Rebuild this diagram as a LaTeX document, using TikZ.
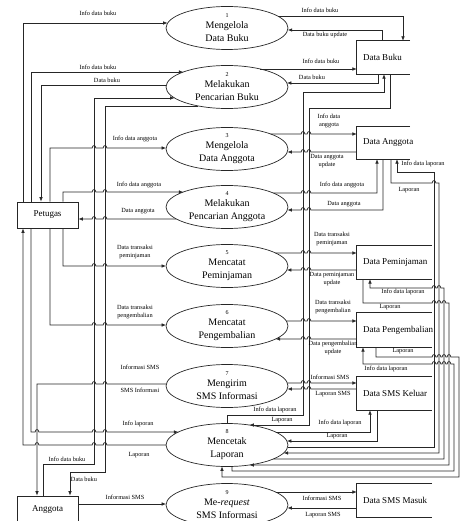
\documentclass[tikz,border=0pt]{standalone}
\usepackage{fontspec}
\setmainfont{Liberation Serif}
\usetikzlibrary{shapes.geometric,calc,arrows.meta}
% hops on horizontal lines (rightward / leftward)
\def\hopR#1#2{-- ({#1-1.8},#2) .. controls +(0,-3.2) and +(0,-3.2) .. ({#1+1.8},#2)}
\def\hopL#1#2{-- ({#1+1.8},#2) .. controls +(0,-3.2) and +(0,-3.2) .. ({#1-1.8},#2)}
% points on the process ellipses (dy / dx from centre)
\def\eL#1#2{($(#1.center)+({-61*sqrt(1-((#2)/21.5)^2)},#2)$)}
\def\eR#1#2{($(#1.center)+({61*sqrt(1-((#2)/21.5)^2)},#2)$)}
\def\eB#1#2{($(#1.center)+(#2,{21.5*sqrt(1-((#2)/61)^2)})$)}
\begin{document}
\begin{tikzpicture}[x=1pt,y=-1pt,
  flow/.style={draw=black!85, line width=0.7pt},
  arr/.style={flow, -{Latex[length=4.5pt,width=3.6pt]}},
  proc/.style={ellipse, draw=black!85, line width=0.7pt, minimum width=122pt, minimum height=43pt, inner sep=0pt, align=center, font=\fontsize{10}{13}\selectfont},
  ent/.style={rectangle, draw=black!85, line width=0.7pt, minimum width=61pt, minimum height=26pt, inner sep=0pt, font=\fontsize{9}{10}\selectfont},
  store/.style={rectangle, minimum height=33pt, inner sep=0pt, font=\fontsize{9}{10}\selectfont},
  lbl/.style={font=\fontsize{6.3}{8.5}\selectfont, inner sep=0pt, align=center}]
\useasboundingbox (0,0) rectangle (474,521);
\clip (0,0) rectangle (474,521);

% processes
\node[proc] (p1) at (227,28)  {{\fontsize{6}{6}\selectfont 1}\\[-2pt]Mengelola\\Data Buku};
\node[proc] (p2) at (227,87)  {{\fontsize{6}{6}\selectfont 2}\\[-2pt]Melakukan\\Pencarian Buku};
\node[proc] (p3) at (227,149) {{\fontsize{6}{6}\selectfont 3}\\[-2pt]Mengelola\\Data Anggota};
\node[proc] (p4) at (227,207) {{\fontsize{6}{6}\selectfont 4}\\[-2pt]Melakukan\\Pencarian Anggota};
\node[proc] (p5) at (227,266) {{\fontsize{6}{6}\selectfont 5}\\[-2pt]Mencatat\\Peminjaman};
\node[proc] (p6) at (227,326) {{\fontsize{6}{6}\selectfont 6}\\[-2pt]Mencatat\\Pengembalian};
\node[proc] (p7) at (227,386) {{\fontsize{6}{6}\selectfont 7}\\[-2pt]Mengirim\\SMS Informasi};
\node[proc] (p8) at (227,445) {{\fontsize{6}{6}\selectfont 8}\\[-2pt]Mencetak\\Laporan};
\node[proc] (p9) at (227,505) {{\fontsize{6}{6}\selectfont 9}\\[-2pt]Me-\textit{request}\\SMS Informasi};

% external entities
\node[ent] (pt) at (47.5,215) {Petugas};
\node[ent] (ag) at (47.5,509) {Anggota};

% data stores
\node[store, minimum width=53pt] (db) at (383.5,57.5) {\makebox[41pt][l]{Data Buku}};
\node[store, minimum width=53pt, minimum height=32pt] (da) at (383.5,143) {\makebox[41pt][l]{Data Anggota}};
\node[store, minimum width=75pt] (dp) at (394.5,262.5) {\makebox[63pt][l]{Data Peminjaman}};
\node[store, minimum width=75pt, minimum height=34pt] (dpg) at (394.5,330) {\makebox[63pt][l]{Data Pengembalian}};
\node[store, minimum width=75pt] (dsk) at (394.5,393.5) {\makebox[63pt][l]{Data SMS Keluar}};
\node[store, minimum width=75pt] (dsm) at (394.5,500.5) {\makebox[63pt][l]{Data SMS Masuk}};
\foreach \s in {db,da,dp,dpg,dsk,dsm}
  \draw[flow] (\s.north east) -- (\s.north west) -- (\s.south west) -- (\s.south east);

% ---------- left side flows ----------
\draw[arr] (23,0 |- pt.north) -- (23,23) -- \eL{p1}{-5};
\draw[arr] (31,0 |- pt.north) -- (31,72) -- \eL{p2}{-15};
\draw[arr] \eL{p2}{-2} -- (41,85) -- (41,0 |- pt.north);
\draw[arr] (43,0 |- ag.north) -- (43,464) -- (94,464) -- (94,98) -- \eL{p2}{11};
\draw[arr] \eL{p2}{19} -- (105,106) -- (105,472) -- (70,472) -- (70,0 |- ag.north);
\draw[arr] (50,0 |- pt.north) -- (50,148) \hopR{94}{148} \hopR{105}{148} -- \eL{p3}{-1};
\draw[arr] (63,0 |- pt.north) -- (63,192) \hopR{94}{192} \hopR{105}{192} -- \eL{p4}{-15};
\draw[arr] \eL{p4}{12} \hopL{105}{219} \hopL{94}{219} -- (pt.east |- 0,219);
\draw[arr] (63,0 |- pt.south) -- (63,266) \hopR{94}{266} \hopR{105}{266} -- \eL{p5}{0};
\draw[arr] (50,0 |- pt.south) -- (50,325) \hopR{94}{325} \hopR{105}{325} -- \eL{p6}{-1};
\draw[arr] \eL{p7}{-2} \hopL{105}{384} \hopL{94}{384} -- (37,384) -- (37,0 |- ag.north);
\draw[arr] (31,0 |- pt.south) -- (31,432) \hopR{37}{432} \hopR{94}{432} \hopR{105}{432} -- \eL{p8}{-13};
\draw[arr] \eL{p8}{0} \hopL{105}{445} \hopL{94}{445} \hopL{37}{445} -- (23,445) -- (23,0 |- pt.south);
\draw[arr] (ag.east |- 0,504) -- \eL{p9}{-1};

% ---------- Data Buku ----------
\draw[arr] \eR{p1}{-12} -- (403,16) -- (403,0 |- db.north);
\draw[arr] (382,0 |- db.north) -- (382,30) -- \eR{p1}{2};
\draw[arr] \eR{p2}{-18} -- (db.west |- 0,69);
\draw[arr] (378,0 |- db.south) -- (378,83) -- \eR{p2}{-4};
\draw[arr] (p8.north) -- (227,415) -- (303,415) -- (303,92) -- (384,92) -- (384,0 |- db.south);
\draw[arr] (390,0 |- db.south) -- (390,108) -- (309,108) -- (309,425) -- \eR{p8}{-20};

% ---------- Data Anggota ----------
\draw[arr] \eR{p3}{-15} \hopR{303}{134} \hopR{309}{134} -- (da.west |- 0,134);
\draw[arr] (da.west |- 0,152) \hopL{309}{152} \hopL{303}{152} -- \eR{p3}{3};
\draw[arr] \eR{p4}{-14} \hopR{303}{193} \hopR{309}{193} -- (377,193) -- (377,0 |- da.south);
\draw[arr] (383,0 |- da.south) -- (383,210) \hopL{309}{210} \hopL{303}{210} -- \eR{p4}{3};
\draw[arr] \eR{p8}{2} -- (434,447) -- (434,172) -- (397,172) -- (397,0 |- da.south);
\draw[arr] (391,0 |- da.south) -- (391,183) \hopR{434}{183} -- (439,183) -- (439,453) -- \eR{p8}{8};

% ---------- Data Peminjaman ----------
\draw[arr] \eR{p5}{-13} \hopR{303}{253} \hopR{309}{253} -- (dp.west |- 0,253);
\draw[arr] (dp.west |- 0,270) \hopL{309}{270} \hopL{303}{270} -- \eR{p5}{4};
\draw[arr] \eR{p8}{14} -- (444,459) -- (444,288) \hopL{439}{288} \hopL{434}{288} -- (370,288) -- (370,0 |- dp.south);
\draw[arr] (363,0 |- dp.south) -- (363,303) \hopR{434}{303} \hopR{439}{303} \hopR{444}{303} -- (449,303) -- (449,465) -- \eR{p8}{20};

% ---------- Data Pengembalian ----------
\draw[arr] \eR{p6}{-5} \hopR{303}{321} \hopR{309}{321} -- (dpg.west |- 0,321);
\draw[arr] (dpg.west |- 0,339) \hopL{309}{339} \hopL{303}{339} -- \eR{p6}{13};
\draw[arr] (376,0 |- dpg.south) -- (376,357) \hopR{434}{357} \hopR{439}{357} \hopR{444}{357} \hopR{449}{357} -- (459,357) -- (459,477) -- (222,477) -- \eB{p8}{-5};
\draw[arr] \eB{p8}{5} -- (232,471) -- (454,471) -- (454,364) \hopL{449}{364} \hopL{444}{364} \hopL{439}{364} \hopL{434}{364} -- (363,364) -- (363,0 |- dpg.south);

% ---------- Data SMS Keluar ----------
\draw[arr] \eR{p7}{-3} \hopR{303}{383} \hopR{309}{383} -- (dsk.west |- 0,383);
\draw[arr] (dsk.west |- 0,389) \hopL{309}{389} \hopL{303}{389} -- \eR{p7}{3};
\draw[arr] \eR{p8}{-13} -- (370,432) -- (370,0 |- dsk.south);
\draw[arr] (377,0 |- dsk.south) -- (377,441) -- \eR{p8}{-4};

% ---------- Data SMS Masuk ----------
\draw[arr] \eR{p9}{-13} -- (dsm.west |- 0,492);
\draw[arr] (dsm.west |- 0,508) -- \eR{p9}{3};

% ---------- labels ----------
\node[lbl] (a1) at (98,13) {Info data buku};
\node[lbl] (a2) at (98,67) {Info data buku};
\node[lbl] (a3) at (107,80) {Data buku};
\node[lbl] (a4) at (135,139) {Info data anggota};
\node[lbl] (a5) at (139,185) {Info data anggota};
\node[lbl] (a6) at (138,211) {Data anggota};
\node[lbl] (a7) at (135,252) {Data transaksi\\peminjaman};
\node[lbl] (a8) at (135,312) {Data transaksi\\pengembalian};
\node[lbl] (a9) at (140,367) {Informasi SMS};
\node[lbl] (a10) at (140,390) {SMS Informasi};
\node[lbl] (a11) at (138,424) {Info laporan};
\node[lbl] (a12) at (139,455) {Laporan};
\node[lbl] (a13) at (67,459) {Info data buku};
\node[lbl] (a14) at (84,479) {Data buku};
\node[lbl] (a15) at (125,497) {Informasi SMS};

\node[lbl] (b1) at (320,10) {Info data buku};
\node[lbl] (b2) at (325,35) {Data buku update};
\node[lbl] (b3) at (321,61) {Info data buku};
\node[lbl] (b4) at (312,77) {Data buku};
\node[lbl] (b5) at (329,121) {Info data\\anggota};
\node[lbl] (b6) at (327,161) {Data anggota\\update};
\node[lbl] (b7) at (342,185) {Info data anggota};
\node[lbl] (b8) at (344,204) {Data anggota};
\node[lbl] (b9) at (423,164) {Info data laporan};
\node[lbl] (b10) at (409,190) {Laporan};
\node[lbl] (b11) at (332,239) {Data transaksi\\peminjaman};
\node[lbl] (b12) at (332,279) {Data peminjaman\\update};
\node[lbl] (b13) at (403,292) {Info data laporan};
\node[lbl] (b14) at (390,307) {Laporan};
\node[lbl] (b15) at (333,307) {Data transaksi\\pengembalian};
\node[lbl] (b16) at (333,348) {Data pengembalian\\update};
\node[lbl] (b17) at (403,351) {Laporan};
\node[lbl] (b18) at (386,369) {Info data laporan};
\node[lbl] (b19) at (330,377) {Informasi SMS};
\node[lbl] (b20) at (333,394) {Laporan SMS};
\node[lbl] (b21) at (275,410) {Info data laporan};
\node[lbl] (b22) at (282,420) {Laporan};
\node[lbl] (b23) at (340,423) {Info data laporan};
\node[lbl] (b24) at (337,436) {Laporan};
\node[lbl] (b25) at (322,498) {Informasi SMS};
\node[lbl] (b26) at (323,515) {Laporan SMS};
\end{tikzpicture}
\end{document}
